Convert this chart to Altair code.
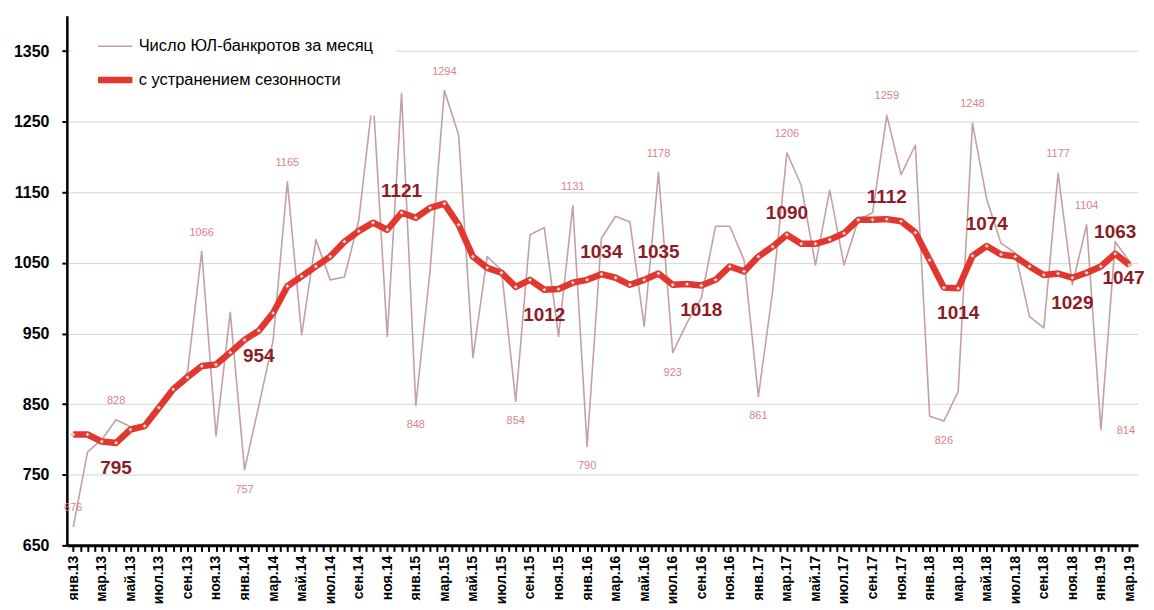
import altair as alt
import pandas as pd

RAW_NAME = "Число ЮЛ-банкротов за месяц"
SA_NAME = "с устранением сезонности"

months = [
    "янв.13", "фев.13", "мар.13", "апр.13", "май.13", "июн.13", "июл.13", "авг.13", "сен.13", "окт.13", "ноя.13", "дек.13",
    "янв.14", "фев.14", "мар.14", "апр.14", "май.14", "июн.14", "июл.14", "авг.14", "сен.14", "окт.14", "ноя.14", "дек.14",
    "янв.15", "фев.15", "мар.15", "апр.15", "май.15", "июн.15", "июл.15", "авг.15", "сен.15", "окт.15", "ноя.15", "дек.15",
    "янв.16", "фев.16", "мар.16", "апр.16", "май.16", "июн.16", "июл.16", "авг.16", "сен.16", "окт.16", "ноя.16", "дек.16",
    "янв.17", "фев.17", "мар.17", "апр.17", "май.17", "июн.17", "июл.17", "авг.17", "сен.17", "окт.17", "ноя.17", "дек.17",
    "янв.18", "фев.18", "мар.18", "апр.18", "май.18", "июн.18", "июл.18", "авг.18", "сен.18", "окт.18", "ноя.18", "дек.18",
    "янв.19", "фев.19", "мар.19",
]

raw = [
    676, 782, 800, 828, 818, 822, 850, 870, 895, 1066, 805, 980,
    757, 848, 940, 1165, 948, 1083, 1026, 1030, 1110, 1286, 946, 1290,
    848, 1040, 1294, 1231, 916, 1059, 1040, 854, 1090, 1100, 946, 1131,
    790, 1085, 1116, 1108, 960, 1178, 923, 965, 1000, 1102, 1102, 1054,
    861, 1010, 1206, 1160, 1047, 1153, 1047, 1111, 1121, 1259, 1175, 1217,
    833, 826, 868, 1248, 1140, 1078, 1064, 974, 958, 1177, 1019, 1104,
    814, 1080, 1052,
]

sa = [
    807, 807, 797, 795, 814, 819, 845, 871, 888, 904, 906, 923,
    941, 954, 979, 1017, 1031, 1045, 1059, 1080, 1095, 1107, 1097, 1121,
    1114, 1128, 1134, 1104, 1059, 1043, 1036, 1016, 1026, 1012, 1013, 1022,
    1026, 1034, 1029, 1019, 1026, 1035, 1019, 1020, 1018, 1026, 1045, 1038,
    1059, 1073, 1090, 1077, 1077, 1083, 1092, 1111, 1111, 1112, 1109, 1093,
    1054, 1015, 1014, 1060, 1074, 1062, 1059, 1045, 1033, 1035, 1029, 1036,
    1045, 1063, 1047,
]

# which points carry value labels, and on which side
raw_lbl_above = [0, 3, 9, 15, 26, 35, 41, 50, 57, 63, 69, 71]
raw_lbl_below = [12, 24, 31, 36, 42, 48, 61]
raw_lbl_right = [72]
sa_lbl_above = [23, 37, 41, 50, 57, 64, 73]
sa_lbl_below = [3, 13, 33, 44, 62, 70]
sa_lbl_near = [74]

y_ticks = [650, 750, 850, 950, 1050, 1150, 1250, 1350]

FONT = "Liberation Sans"
RAW_COLOR = "#c4a0a4"
SA_COLOR = "#e2372e"
RAW_LBL = "#d98486"
SA_LBL = "#8c1d26"

df = pd.DataFrame({"i": list(range(len(months))), "month": months, "raw": raw, "sa": sa})
long = df.melt(id_vars=["i", "month"], value_vars=["raw", "sa"], var_name="key", value_name="value")
long["series"] = long["key"].map({"raw": RAW_NAME, "sa": SA_NAME})

label_arr = "[" + ",".join("'" + m + "'" for m in months) + "]"
x_ticks = [k / 2 for k in range(0, 2 * (len(months) - 1) + 1)]

xscale = alt.Scale(domain=[-0.45, 74.6], nice=False, zero=False)
yscale = alt.Scale(domain=[650, 1400], nice=False, zero=False)

x_axis = alt.Axis(
    values=x_ticks,
    labelExpr="(datum.value >= 0 && datum.value % 2 == 0) ? " + label_arr + "[datum.value] : ''",
    labelAngle=270, labelFontSize=14, labelFont=FONT, labelFontWeight="bold", labelColor="black",
    labelPadding=4, tickSize=6, tickWidth=2, tickColor="black", domainColor="black", domainWidth=3,
    grid=False, labelOverlap=False, labelFlush=False, title=None,
)
y_axis = alt.Axis(
    values=y_ticks, format="d", labelFontSize=16, labelFont=FONT, labelFontWeight="bold", labelColor="black",
    labelPadding=13, tickSize=5, tickWidth=2, tickColor="black", domainColor="black", domainWidth=2.5,
    grid=True, gridColor="#d6d6d6", gridWidth=1, title=None,
)

X = alt.X("i:Q", scale=xscale, axis=x_axis, title=None)

legend = alt.Legend(
    title=None, orient="none", legendX=6, legendY=-10, fillColor="white", padding=22,
    symbolType="stroke", symbolSize=1190, labelFontSize=16.5, labelFont=FONT, labelColor="black",
    labelOffset=3, rowPadding=5, labelLimit=400,
)

lines = alt.Chart(long).mark_line(strokeJoin="round").encode(
    x=X,
    y=alt.Y("value:Q", scale=yscale, axis=y_axis, title=None),
    color=alt.Color("series:N", scale=alt.Scale(domain=[RAW_NAME, SA_NAME], range=[RAW_COLOR, SA_COLOR]), legend=legend),
    strokeWidth=alt.StrokeWidth("series:N", scale=alt.Scale(domain=[RAW_NAME, SA_NAME], range=[1.6, 6.5]), legend=legend),
    order="i:Q",
)

markers = alt.Chart(df).mark_point(
    shape="diamond", filled=True, size=18, fill="#f7dcd6", stroke="#b5585a", strokeWidth=0.6, opacity=1
).encode(x=X, y=alt.Y("sa:Q", scale=yscale, axis=y_axis, title=None))


def lbl(field, idx, color, size, weight, dx=0, dy=0):
    return alt.Chart(df).transform_filter(
        alt.FieldOneOfPredicate(field="i", oneOf=idx)
    ).mark_text(
        dx=dx, dy=dy, fontSize=size, font=FONT, fontWeight=weight, color=color, baseline="middle", align="center"
    ).encode(
        x=X, y=alt.Y(field + ":Q", scale=yscale, axis=y_axis, title=None), text=alt.Text(field + ":Q")
    )


layers = [
    lines,
    markers,
    lbl("raw", raw_lbl_above, RAW_LBL, 11, "normal", dy=-19),
    lbl("raw", raw_lbl_below, RAW_LBL, 11, "normal", dy=20),
    lbl("raw", raw_lbl_right, RAW_LBL, 11, "normal", dx=25, dy=1),
    lbl("sa", sa_lbl_above, SA_LBL, 19, "bold", dy=-22),
    lbl("sa", sa_lbl_below, SA_LBL, 19, "bold", dy=25),
    lbl("sa", sa_lbl_near, SA_LBL, 19, "bold", dx=-6, dy=13),
]

chart = alt.layer(*layers).properties(
    width=1074, height=531,
    autosize=alt.AutoSizeParams(type="none"),
    padding={"left": 59, "top": 7, "right": 8, "bottom": 58},
    background="white",
).configure_view(stroke=None)

chart.save("out.html", embed_options={"renderer": "svg", "actions": False})
